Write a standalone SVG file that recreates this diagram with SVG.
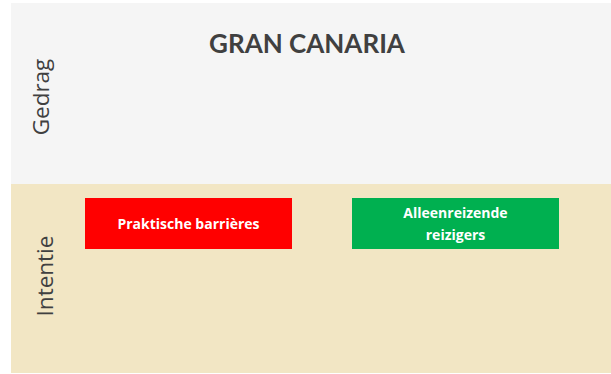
<svg xmlns="http://www.w3.org/2000/svg" width="611" height="374" viewBox="0 0 611 374">
<style>
.axis{font-family:"Open Sans","DejaVu Sans",sans-serif;font-size:22.5px;fill:#404040;}
.box-t{font-family:"Open Sans","Liberation Sans",sans-serif;font-size:14px;font-weight:bold;fill:#ffffff;text-anchor:middle;}
</style>
<rect x="0" y="0" width="611" height="374" fill="#ffffff"/>
<g id="band-gedrag">
<rect x="11" y="3" width="600" height="181" fill="#f5f5f5"/>
<text class="axis" transform="translate(49,97) rotate(-90)" text-anchor="middle">Gedrag</text>
</g>
<g id="band-intentie">
<rect x="11" y="184" width="600" height="189" fill="#f2e6c4"/>
<text class="axis" transform="translate(53,276) rotate(-90)" text-anchor="middle">Intentie</text>
</g>
<g id="title">
<text x="307" y="53" text-anchor="middle" font-family="Lato,'Open Sans',sans-serif" font-size="26" font-weight="bold" fill="#404040">GRAN CANARIA</text>
</g>
<g id="node-praktische">
<rect x="85" y="198" width="207" height="51" fill="#ff0000"/>
<text class="box-t" x="188.5" y="229">Praktische barrières</text>
</g>
<g id="node-alleenreizende">
<rect x="352" y="198" width="207" height="51" fill="#00b050"/>
<text class="box-t" x="455.5" y="218">Alleenreizende</text>
<text class="box-t" x="455.5" y="240">reizigers</text>
</g>
<g id="connectors"></g>
</svg>
